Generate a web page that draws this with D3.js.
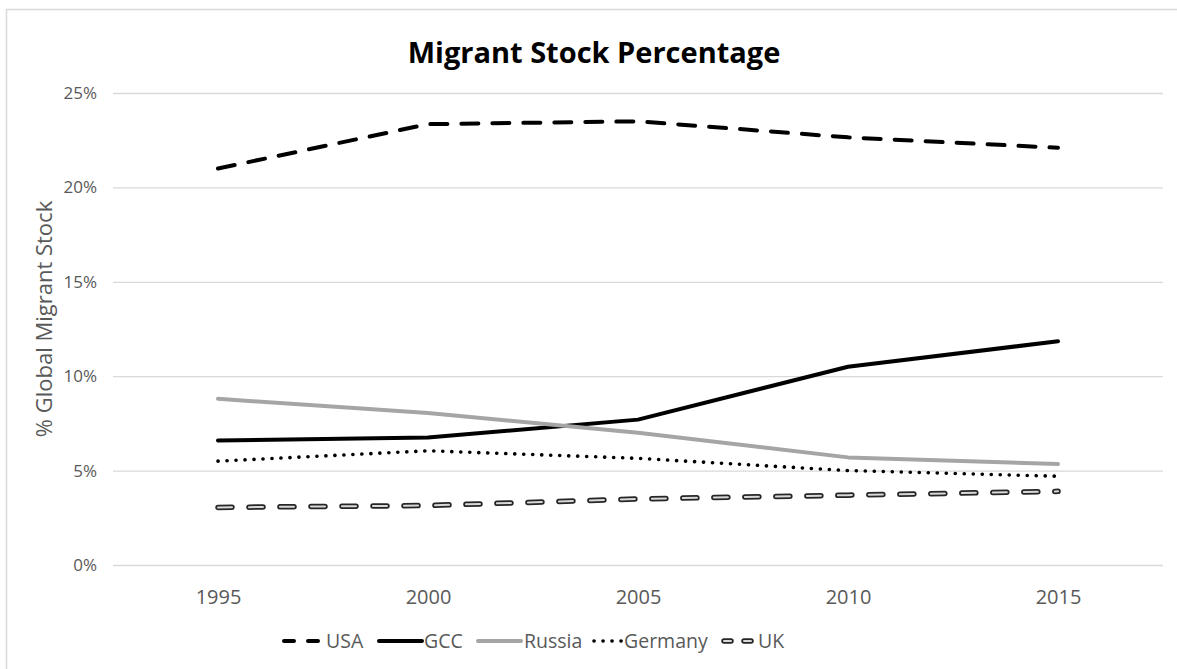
<!DOCTYPE html>
<html>
<head>
<meta charset="utf-8">
<script src="https://cdn.jsdelivr.net/npm/d3@7"></script>
<style>
  body { margin: 0; background: #fff; overflow: hidden; }
  svg { display: block; }
  text { font-family: "Open Sans", "Noto Sans", sans-serif; }
</style>
</head>
<body>
<svg id="canvas"></svg>
<script>
// Chart data.
var years = ['1995', '2000', '2005', '2010', '2015'];
var usa = [21.0, 23.35, 23.5, 22.65, 22.1];
var gcc = [6.6, 6.75, 7.7, 10.5, 11.85];
var russia = [8.8, 8.05, 7.0, 5.7, 5.35];
var germany = [5.5, 6.05, 5.65, 5.0, 4.7];
var uk = [3.05, 3.15, 3.5, 3.7, 3.9];
var yTicks = [0, 5, 10, 15, 20, 25];

var seriesNames = ['USA', 'GCC', 'Russia', 'Germany', 'UK'];
var seriesValues = [usa, gcc, russia, germany, uk];

// Canvas properties.
var canvas = { width: 1177, height: 669 };
var plot = { left: 113, right: 1163, top: 93, bottom: 565 };

// Line styles per series.
var styles = {
  USA:     { color: '#000000', width: 4,   dash: '17 14', cap: 'round' },
  GCC:     { color: '#000000', width: 4,   dash: null,    cap: 'round' },
  Russia:  { color: '#a5a5a5', width: 4,   dash: null,    cap: 'round' },
  Germany: { color: '#000000', width: 3.6, dash: '0.1 8.9', cap: 'round' },
  UK:      { color: '#262626', width: 5.5, dash: '14 17', cap: 'round', inner: '#d9d9d9' }
};

var svg = d3.select('#canvas')
  .attr('width', canvas.width)
  .attr('height', canvas.height);

// Outer chart border.
svg.append('rect')
  .attr('x', 6.5).attr('y', 9.5)
  .attr('width', 1200).attr('height', 700)
  .attr('fill', 'none')
  .attr('stroke', '#d9d9d9')
  .attr('stroke-width', 1.5);

// Scales.
var xScale = d3.scalePoint()
  .domain(years)
  .range([plot.left, plot.right])
  .padding(0.5);

var yScale = d3.scaleLinear()
  .domain([0, 25])
  .range([plot.bottom, plot.top]);

// Gridlines and y labels.
var yAxis = d3.axisLeft(yScale)
  .tickValues(yTicks)
  .tickSize(-(plot.right - plot.left))
  .tickPadding(16)
  .tickFormat(function(d) { return d + '%'; });

var yG = svg.append('g')
  .attr('transform', 'translate(' + plot.left + ',0)')
  .call(yAxis);
yG.select('.domain').remove();
yG.selectAll('.tick line').attr('stroke', '#d9d9d9').attr('stroke-width', 1.3);
yG.selectAll('.tick text')
  .attr('fill', '#595959')
  .style('font-size', '17px');

// X labels.
var xAxis = d3.axisBottom(xScale).tickSize(0).tickPadding(25);
var xG = svg.append('g')
  .attr('transform', 'translate(0,' + plot.bottom + ')')
  .call(xAxis);
xG.select('.domain').remove();
xG.selectAll('.tick text')
  .attr('fill', '#595959')
  .style('font-size', '20px');

// Title.
svg.append('text')
  .attr('x', 594).attr('y', 63)
  .attr('text-anchor', 'middle')
  .attr('fill', '#000')
  .style('font-size', '29px')
  .style('font-weight', 'bold')
  .text('Migrant Stock Percentage');

// Y axis title.
svg.append('text')
  .attr('transform', 'translate(52,319) rotate(-90)')
  .attr('text-anchor', 'middle')
  .attr('fill', '#595959')
  .style('font-size', '22px')
  .text('% Global Migrant Stock');

// Line generator.
var line = d3.line()
  .x(function(d, i) { return xScale(years[i]); })
  .y(function(d) { return yScale(d); });

function strokeLine(sel, st) {
  sel.attr('fill', 'none')
    .attr('stroke', st.color)
    .attr('stroke-width', st.width)
    .attr('stroke-linecap', st.cap)
    .attr('stroke-linejoin', 'round');
  if (st.dash) sel.attr('stroke-dasharray', st.dash);
}

// Draw series.
seriesNames.forEach(function(name, k) {
  var st = styles[name];
  var p = svg.append('path').attr('d', line(seriesValues[k]));
  strokeLine(p, st);
  if (st.inner) {
    svg.append('path')
      .attr('d', line(seriesValues[k]))
      .attr('fill', 'none')
      .attr('stroke', st.inner)
      .attr('stroke-width', 2)
      .attr('stroke-linecap', 'round')
      .attr('stroke-dasharray', st.dash);
  }
});

// Legend.
var legendItems = [
  { name: 'USA',     x1: 284, x2: 318, tx: 326 },
  { name: 'GCC',     x1: 379, x2: 422, tx: 424 },
  { name: 'Russia',  x1: 478, x2: 521, tx: 524 },
  { name: 'Germany', x1: 594, x2: 622, tx: 624 },
  { name: 'UK',      x1: 724, x2: 754, tx: 758 }
];
var ly = 641;

legendItems.forEach(function(it) {
  var st = styles[it.name];
  var dash = st.dash;
  if (it.name === 'USA') dash = '10 14';
  if (it.name === 'UK') dash = '7 13';
  var l = svg.append('line')
    .attr('x1', it.x1).attr('x2', it.x2)
    .attr('y1', ly).attr('y2', ly);
  strokeLine(l, st);
  if (dash) l.attr('stroke-dasharray', dash);
  if (st.inner) {
    svg.append('line')
      .attr('x1', it.x1).attr('x2', it.x2)
      .attr('y1', ly).attr('y2', ly)
      .attr('stroke', st.inner)
      .attr('stroke-width', 2)
      .attr('stroke-linecap', 'round')
      .attr('stroke-dasharray', dash);
  }
  svg.append('text')
    .attr('x', it.tx).attr('y', ly + 7)
    .attr('fill', '#595959')
    .style('font-size', '19.5px')
    .text(it.name);
});
</script>
</body>
</html>
